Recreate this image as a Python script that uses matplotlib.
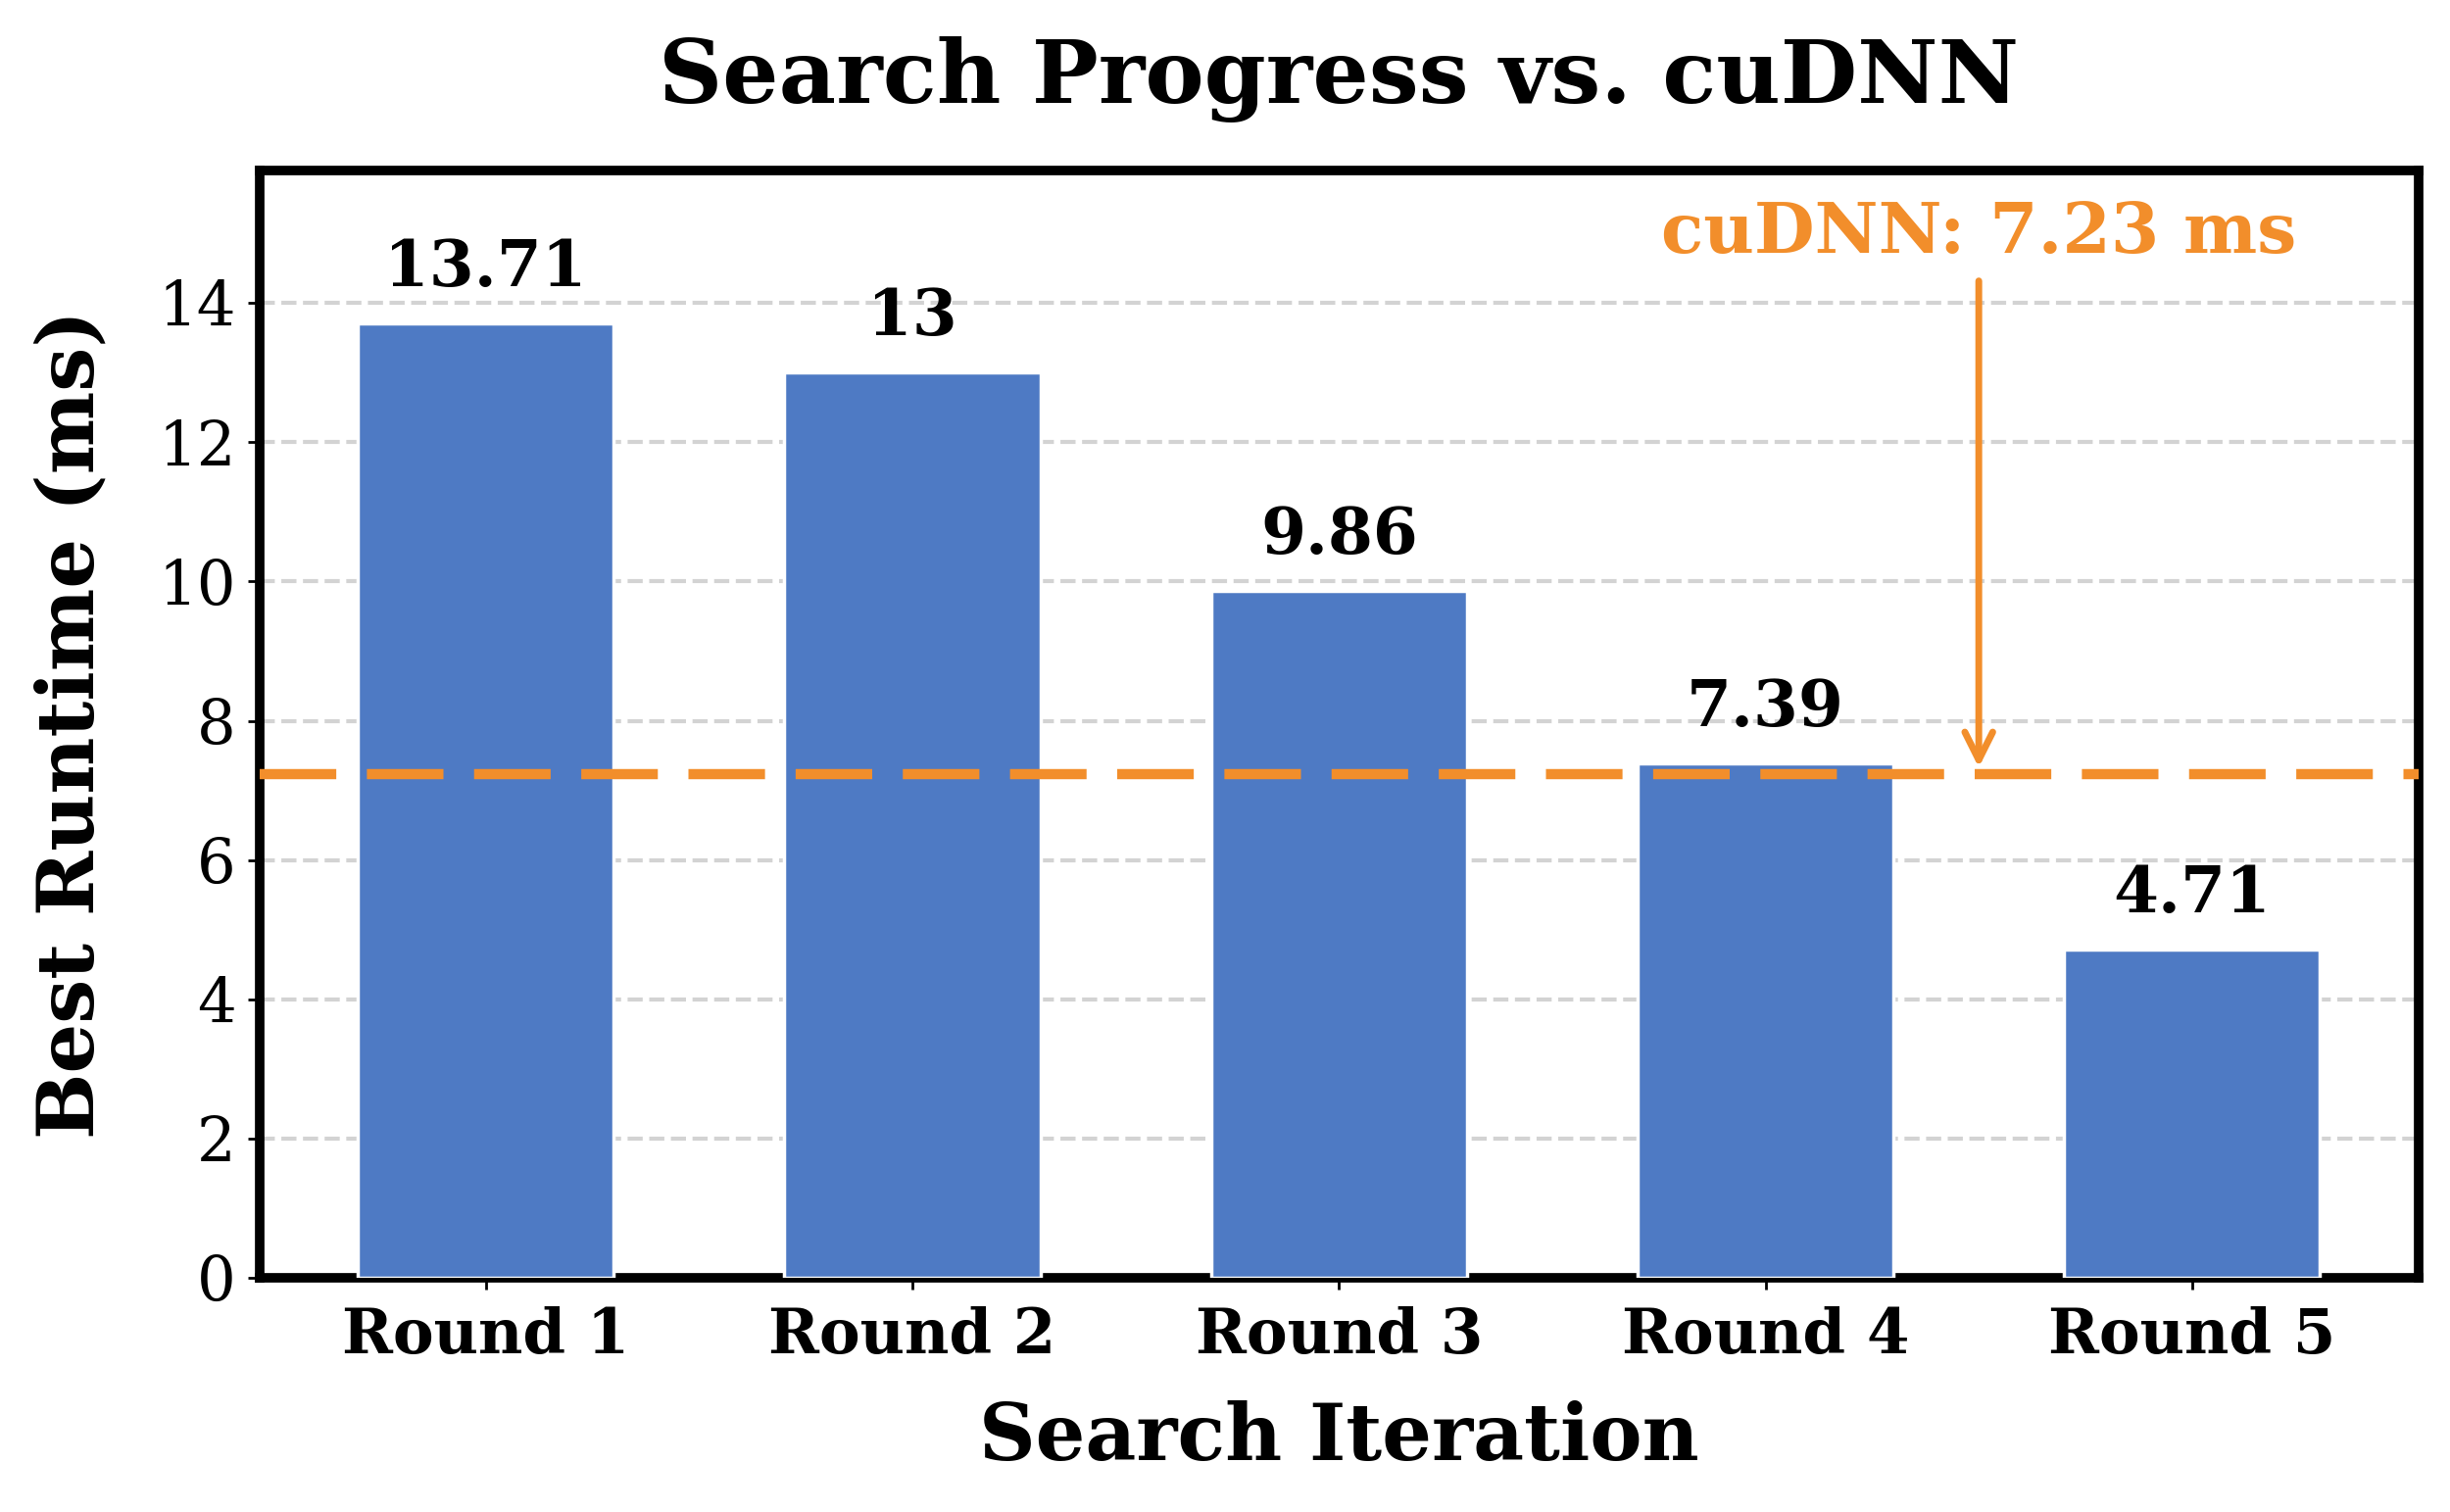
import matplotlib
matplotlib.use("Agg")
import matplotlib.pyplot as plt

rounds = ["Round 1", "Round 2", "Round 3", "Round 4", "Round 5"]
runtimes = [13.71, 13.0, 9.86, 7.39, 4.71]
bar_labels = ["13.71", "13", "9.86", "7.39", "4.71"]
cudnn_ms = 7.23

plt.rcParams["font.family"] = "DejaVu Serif"

bar_color = "#4E7AC4"
ref_color = "#F28E2B"

fig, ax = plt.subplots(figsize=(10, 6.172))

x = list(range(len(rounds)))
bars = ax.bar(x, runtimes, width=0.6, color=bar_color, edgecolor="white", linewidth=1, zorder=3)
ax.bar_label(bars, labels=bar_labels, padding=7, fontsize=19, fontweight="bold")

# cuDNN reference line
ax.axhline(cudnn_ms, color=ref_color, linestyle=(0, (7.5, 3)), linewidth=3, zorder=4)
ax.annotate("cuDNN: 7.23 ms", xy=(3.5, cudnn_ms), xytext=(3.5, 15.0),
            ha="center", va="center", fontsize=20.5, fontweight="bold", color=ref_color,
            arrowprops=dict(arrowstyle="->", color=ref_color, lw=2))

ax.set_ylim(0, 15.9)
ax.set_xticks(x)
ax.set_xticklabels(rounds, fontsize=18, fontweight="bold")
ax.tick_params(axis="y", labelsize=18)
ax.tick_params(axis="x", pad=5)
ax.set_yticks([0, 2, 4, 6, 8, 10, 12, 14])
ax.set_xlabel("Search Iteration", fontsize=23, fontweight="bold", labelpad=10)
ax.set_ylabel("Best Runtime (ms)", fontsize=23, fontweight="bold", labelpad=14)
ax.set_title("Search Progress vs. cuDNN", fontsize=26, fontweight="bold", pad=20)

ax.yaxis.grid(True, linestyle="--", color="#d3d3d3", linewidth=1.2, zorder=0)
ax.set_axisbelow(True)
for s in ax.spines.values():
    s.set_linewidth(2.8)

fig.subplots_adjust(left=0.106, right=0.987, top=0.887, bottom=0.155)
plt.savefig("out.png", dpi=250)
